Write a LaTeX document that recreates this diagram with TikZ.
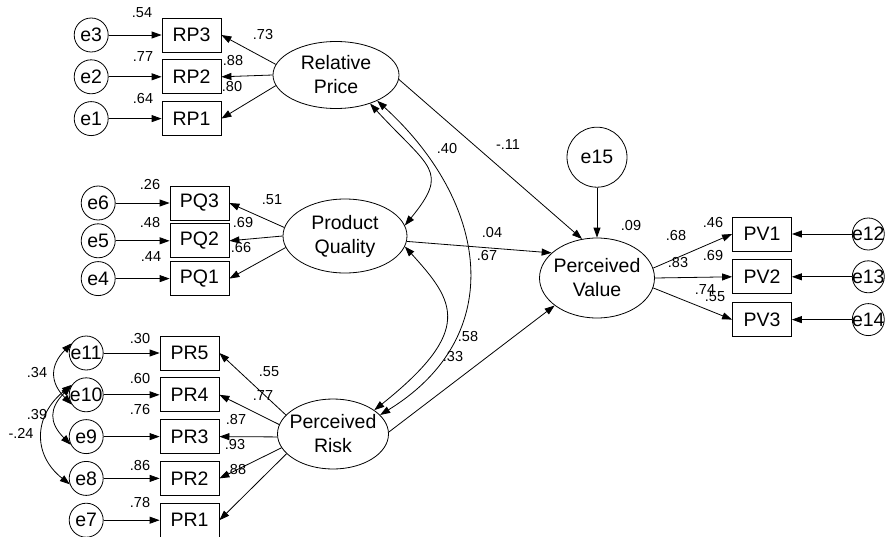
\documentclass[tikz,border=0pt]{standalone}
\usepackage{fontspec}
\setmainfont{Liberation Sans}
\usepackage{tikz}
\usetikzlibrary{shapes.geometric,arrows.meta,positioning}

\begin{document}
\begin{tikzpicture}[
    x=1pt, y=-1pt,
    font=\fontsize{19.5}{24}\selectfont,
    latent/.style={
        ellipse, draw, line width=0.8pt,
        inner sep=-6pt, align=center
    },
    obs/.style={
        rectangle, draw, line width=0.8pt,
        minimum width=59pt, minimum height=34pt, inner sep=0pt
    },
    err/.style={circle, draw, line width=0.8pt, minimum size=34pt, inner sep=-2pt},
    coef/.style={font=\fontsize{14.5}{16}\selectfont, inner sep=0pt},
    arrow/.style={-{Triangle[length=10pt,width=7pt]}, line width=0.8pt},
    cov/.style={{Triangle[length=10pt,width=7pt]}-{Triangle[length=10pt,width=7pt]}, line width=0.8pt}
]
\useasboundingbox (0,0) rectangle (889,536);

\node[latent, minimum width=126pt, minimum height=67pt] (RP) at (336,75)  {Relative\\Price};
\node[latent, minimum width=124pt, minimum height=74pt] (PQ) at (345,236) {Product\\Quality};
\node[latent, minimum width=111pt, minimum height=70pt] (PR) at (333,434) {Perceived\\Risk};
\node[latent, minimum width=115pt, minimum height=80pt] (PV) at (597,278) {Perceived\\Value};

\node[obs] (RP3) at (191.5,35) {RP3};
\node[obs, below=7pt of RP3] (RP2) {RP2};
\node[obs, below=7pt of RP2] (RP1) {RP1};

\node[obs] (PQ3) at (199.5,203) {PQ3};
\node[obs, below=3pt of PQ3] (PQ2) {PQ2};
\node[obs, below=3pt of PQ2] (PQ1) {PQ1};

\node[obs] (PR5) at (189.5,353) {PR5};
\node[obs, below=7pt of PR5] (PR4) {PR4};
\node[obs, below=7pt of PR4] (PR3) {PR3};
\node[obs, below=7pt of PR3] (PR2) {PR2};
\node[obs, below=7pt of PR2] (PR1) {PR1};

\node[obs] (PV1) at (762,234) {PV1};
\node[obs, below=8pt of PV1] (PV2) {PV2};
\node[obs, below=8pt of PV2] (PV3) {PV3};

\node[err, left=53pt of RP3] (e3) {e3};
\node[err, left=53pt of RP2] (e2) {e2};
\node[err, left=53pt of RP1] (e1) {e1};
\node[err, left=54pt of PQ3] (e6) {e6};
\node[err, left=54pt of PQ2] (e5) {e5};
\node[err, left=54pt of PQ1] (e4) {e4};
\node[err, left=56pt of PR5] (e11) {e11};
\node[err, left=56pt of PR4] (e10) {e10};
\node[err, left=56pt of PR3] (e9) {e9};
\node[err, left=56pt of PR2] (e8) {e8};
\node[err, left=56pt of PR1] (e7) {e7};
\node[err, minimum size=32pt, right=60pt of PV1] (e12) {e12};
\node[err, minimum size=32pt, right=60pt of PV2] (e13) {e13};
\node[err, minimum size=32pt, right=60pt of PV3] (e14) {e14};
\node[err, minimum size=60pt, above=50pt of PV] (e15) {e15};

\node[coef] (sRP3) at (142,13) {.54};
\node[coef] (sRP2) at (143,57) {.77};
\node[coef] (sRP1) at (143,99) {.64};
\node[coef] (lRP3) at (263,35) {.73};
\node[coef] (lRP2) at (233,61) {.88};
\node[coef] (lRP1) at (232,87) {.80};
\node[coef] (sPQ3) at (150,185) {.26};
\node[coef] (sPQ2) at (150,223) {.48};
\node[coef] (sPQ1) at (151,257) {.44};
\node[coef] (lPQ3) at (272,200) {.51};
\node[coef] (lPQ2) at (243,223) {.69};
\node[coef] (lPQ1) at (241,248) {.66};
\node[coef] (sPR5) at (140,339) {.30};
\node[coef] (sPR4) at (140,379) {.60};
\node[coef] (sPR3) at (140,410) {.76};
\node[coef] (sPR2) at (140,466) {.86};
\node[coef] (sPR1) at (140,503) {.78};
\node[coef] (lPR5) at (269,372) {.55};
\node[coef] (lPR4) at (263,396) {.77};
\node[coef] (lPR3) at (236,420) {.87};
\node[coef] (lPR2) at (235,445) {.93};
\node[coef] (lPR1) at (236,470) {.88};
\node[coef] (c1110) at (37,373) {.34};
\node[coef] (c109)  at (37,415) {.39};
\node[coef] (c108)  at (21,433) {-.24};
\node[coef] (gRP)   at (508,145) {-.11};
\node[coef] (cRPPQ) at (447,149) {.40};
\node[coef] (gPQ)   at (492,233) {.04};
\node[coef] (cRPPR) at (487,256) {.67};
\node[coef] (gPR)   at (468,337) {.58};
\node[coef] (cPQPR) at (453,357) {.33};
\node[coef] (sPV)   at (631,226) {.09};
\node[coef] (lPV1)  at (676,236) {.68};
\node[coef] (sPV1)  at (713,223) {.46};
\node[coef] (lPV2)  at (678,263) {.83};
\node[coef] (sPV2)  at (713,256) {.69};
\node[coef] (lPV3)  at (705,290) {.74};
\node[coef] (sPV3)  at (715,297) {.55};

\draw[arrow] (e3)  -- (RP3);
\draw[arrow] (e2)  -- (RP2);
\draw[arrow] (e1)  -- (RP1);
\draw[arrow] (e6)  -- (PQ3);
\draw[arrow] (e5)  -- (PQ2);
\draw[arrow] (e4)  -- (PQ1);
\draw[arrow] (e11) -- (PR5);
\draw[arrow] (e10) -- (PR4);
\draw[arrow] (e9)  -- (PR3);
\draw[arrow] (e8)  -- (PR2);
\draw[arrow] (e7)  -- (PR1);
\draw[arrow] (e12) -- (PV1);
\draw[arrow] (e13) -- (PV2);
\draw[arrow] (e14) -- (PV3);
\draw[arrow] (e15) -- (PV);

\draw[arrow] (RP.170)  -- (RP3.east);
\draw[arrow] (RP.west) -- (RP2.east);
\draw[arrow] (RP.190)  -- (RP1.east);
\draw[arrow] (PQ.172)  -- (PQ3.east);
\draw[arrow] (PQ.west) -- (PQ2.east);
\draw[arrow] (PQ.191)  -- (PQ1.east);
\draw[arrow] (PR.158)  -- (PR5.east);
\draw[arrow] (PR.170)  -- (PR4.east);
\draw[arrow] (PR.183)  -- (PR3.east);
\draw[arrow] (PR.195)  -- (PR2.east);
\draw[arrow] (PR.203)  -- (PR1.east);
\draw[arrow] (PV.10)   -- (PV1.west);
\draw[arrow] (PV.east) -- (PV2.west);
\draw[arrow] (PV.-10)  -- (PV3.west);

\draw[arrow] (RP.-4) -- (PV.111);
\draw[arrow] (PQ.-5) -- (PV.151);
\draw[arrow] (PR.2)  -- (PV.213);

\draw[cov] (RP.320) .. controls +(60,65) and +(45,-55) .. (PQ.10);
\draw[cov] (RP.328) .. controls +(110,100) and +(130,-80) .. (PR.22);
\draw[cov] (PQ.350) .. controls +(50,55) and +(100,-80) .. (PR.30);

\draw[cov] (e11.146) .. controls +(-22,22) and +(-22,-22) .. (e10.214);
\draw[cov] (e10.150) .. controls +(-22,22) and +(-22,-22) .. (e9.208);
\draw[cov] (e10.145) .. controls +(-38,30) and +(-38,-30) .. (e8.200);
\end{tikzpicture}
\end{document}
